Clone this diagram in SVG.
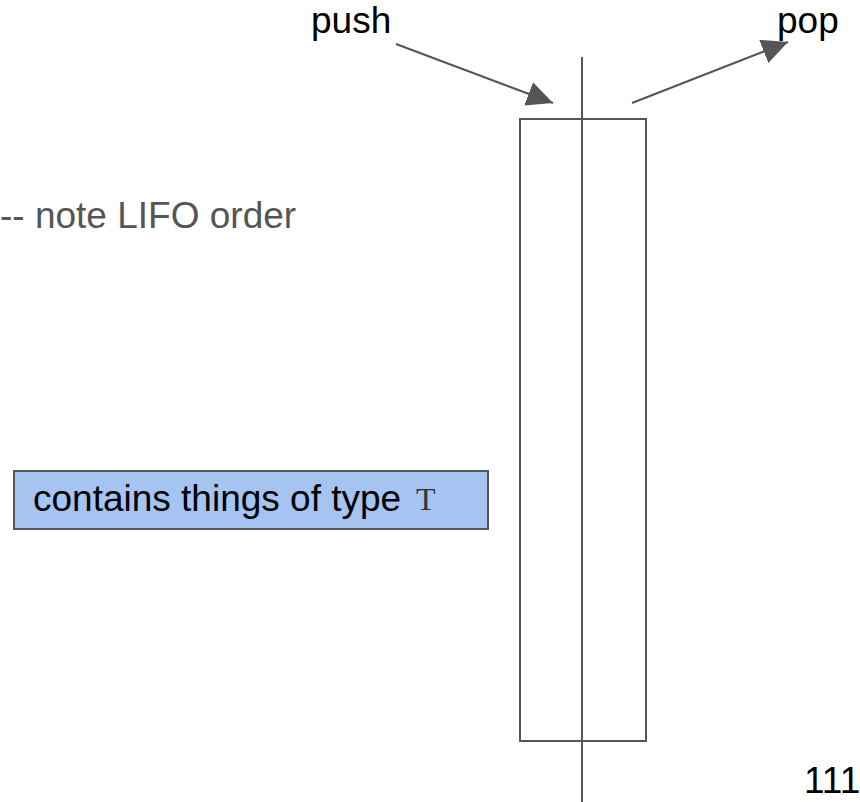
<svg xmlns="http://www.w3.org/2000/svg" width="860" height="802" viewBox="0 0 860 802">
<style>
.ln{stroke:#555;stroke-width:2;fill:none}
.t{font-family:"Liberation Sans",Arial,sans-serif;font-size:37px;fill:#000}
.mono{font-family:"Liberation Serif","DejaVu Serif",serif;font-size:32px;fill:#333}
</style>
<defs>
<marker id="a" viewBox="0 0 26 25" refX="26" refY="12.5" markerWidth="26" markerHeight="25" orient="auto" markerUnits="userSpaceOnUse">
<path d="M0,0 L26,12.5 L0,25 Z" fill="#555"/>
</marker>
</defs>
<rect width="860" height="802" fill="#fff"/>
<g id="stack">
<rect x="520" y="119" width="126" height="622" class="ln"/>
<line x1="582" y1="57" x2="582" y2="802" class="ln"/>
</g>
<g id="connectors">
<line x1="396" y1="44" x2="553" y2="103" class="ln" marker-end="url(#a)"/>
<line x1="632" y1="103" x2="788" y2="42" class="ln" marker-end="url(#a)"/>
</g>
<g id="push"><text x="311" y="33" class="t">push</text></g>
<g id="pop"><text x="777" y="33" class="t">pop</text></g>
<g id="note"><text x="0" y="228" class="t" style="fill:#555">-- note LIFO order</text></g>
<g id="contains">
<rect x="14" y="471" width="474" height="58" fill="#a6c4f2" stroke="#555" stroke-width="2"/>
<text x="33" y="511" class="t">contains things of type</text>
<text x="416" y="510" class="mono">T</text>
</g>
<g id="pagenum"><text x="804" y="793" class="t">111</text></g>
</svg>
